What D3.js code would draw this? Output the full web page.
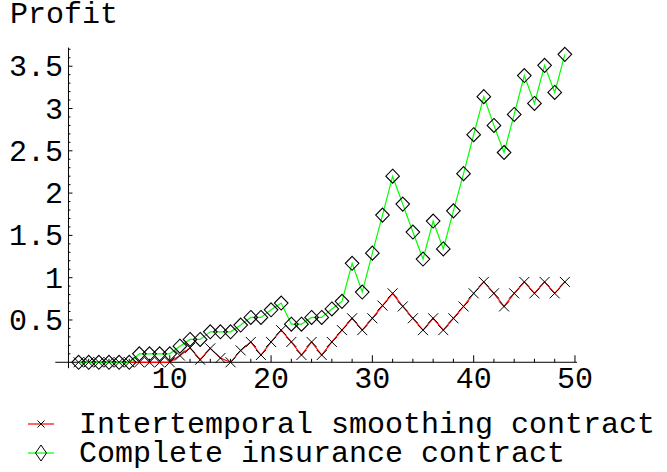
<!DOCTYPE html>
<html>
<head>
<meta charset="utf-8">
<script src="https://cdn.jsdelivr.net/npm/d3@7"></script>
<style>
  body { margin: 0; background: #fff; }
  text { font-family: "Liberation Mono", "Courier New", monospace; fill: #000; }
</style>
</head>
<body>
<div class="chart"></div>
<script>
// periods on the x axis
var periods = [1, 2, 3, 4, 5, 6, 7, 8, 9, 10, 11, 12, 13, 14, 15, 16, 17, 18, 19, 20,
  21, 22, 23, 24, 25, 26, 27, 28, 29, 30, 31, 32, 33, 34, 35, 36, 37, 38, 39, 40,
  41, 42, 43, 44, 45, 46, 47, 48, 49];

// Intertemporal smoothing contract
var smoothingProfit = [0, 0, 0, 0, 0, 0, 0, 0, 0, 0,
  0.08, 0.17, 0.03, 0.165, 0.05, 0.0, 0.14, 0.24, 0.086, 0.24,
  0.38, 0.24, 0.086, 0.24, 0.086, 0.24, 0.38, 0.52, 0.38, 0.52,
  0.67, 0.815, 0.66, 0.52, 0.38, 0.52, 0.38, 0.52, 0.66, 0.815,
  0.95, 0.815, 0.66, 0.815, 0.95, 0.815, 0.95, 0.815, 0.95];

// Complete insurance contract
var insuranceProfit = [0, 0, 0, 0, 0, 0, 0.1, 0.1, 0.1, 0.1,
  0.19, 0.27, 0.27, 0.36, 0.36, 0.36, 0.44, 0.53, 0.53, 0.62,
  0.70, 0.45, 0.45, 0.53, 0.53, 0.63, 0.72, 1.17, 0.83, 1.29,
  1.74, 2.20, 1.87, 1.54, 1.22, 1.67, 1.34, 1.79, 2.23, 2.69,
  3.14, 2.80, 2.48, 2.93, 3.39, 3.06, 3.51, 3.19, 3.64];

var xMajorTicks = [10, 20, 30, 40, 50];
var yMajorTicks = [0.5, 1, 1.5, 2, 2.5, 3, 3.5];
var yTickLabels = ["0.5", "1", "1.5", "2", "2.5", "3", "3.5"];
var seriesNames = ["Intertemporal smoothing contract", "Complete insurance contract"];

var svgWidth = 667;
var svgHeight = 472;

var svg = d3.select(".chart")
  .append("svg")
  .attr("width", svgWidth)
  .attr("height", svgHeight);

var xScale = d3.scaleLinear().domain([-1.3, 50.2]).range([55.3, 577]);
var yScale = d3.scaleLinear().domain([-0.07, 3.72]).range([368.2, 47.6]);

var axisG = svg.append("g").attr("stroke", "#000").attr("stroke-width", 1);

// x axis line + ticks (pointing up into the plot)
axisG.append("line")
  .attr("x1", xScale(-1.3)).attr("x2", xScale(50.2))
  .attr("y1", yScale(0)).attr("y2", yScale(0));

var xMinor = d3.range(2, 51, 2).filter(d => d % 10 !== 0);
axisG.selectAll(".xminor").data(xMinor).enter().append("line")
  .attr("x1", d => xScale(d)).attr("x2", d => xScale(d))
  .attr("y1", yScale(0)).attr("y2", yScale(0) - 3.5);
axisG.selectAll(".xmajor").data(xMajorTicks).enter().append("line")
  .attr("x1", d => xScale(d)).attr("x2", d => xScale(d))
  .attr("y1", yScale(0)).attr("y2", yScale(0) - 7);

svg.selectAll(".xlabel").data(xMajorTicks).enter().append("text")
  .attr("x", d => xScale(d))
  .attr("y", yScale(0) + 26)
  .attr("text-anchor", "middle")
  .style("font-size", "30px")
  .text(d => d);

// y axis line + ticks (pointing right)
axisG.append("line")
  .attr("x1", xScale(0)).attr("x2", xScale(0))
  .attr("y1", yScale(-0.07)).attr("y2", yScale(3.72));

var yMinor = d3.range(1, 38).map(d => d / 10).filter(d => Math.abs(d * 2 - Math.round(d * 2)) > 1e-6);
axisG.selectAll(".yminor").data(yMinor).enter().append("line")
  .attr("x1", xScale(0)).attr("x2", xScale(0) + 2)
  .attr("y1", d => yScale(d)).attr("y2", d => yScale(d));
axisG.selectAll(".ymajor").data(yMajorTicks).enter().append("line")
  .attr("x1", xScale(0)).attr("x2", xScale(0) + 4)
  .attr("y1", d => yScale(d)).attr("y2", d => yScale(d));

svg.selectAll(".ylabel").data(yMajorTicks).enter().append("text")
  .attr("x", 63)
  .attr("y", d => yScale(d) + 10)
  .attr("text-anchor", "end")
  .style("font-size", "30px")
  .text((d, i) => yTickLabels[i]);

svg.append("text")
  .attr("x", 10)
  .attr("y", 23)
  .style("font-size", "30px")
  .text("Profit");

// series lines
var redData = periods.map((p, i) => [p, smoothingProfit[i]]);
var greenData = periods.map((p, i) => [p, insuranceProfit[i]]);

var line = d3.line().x(d => xScale(d[0])).y(d => yScale(d[1]));

svg.append("path").datum(redData)
  .attr("d", line).attr("fill", "none")
  .attr("stroke", "#ff0000").attr("stroke-width", 1.2);
svg.append("path").datum(greenData)
  .attr("d", line).attr("fill", "none")
  .attr("stroke", "#00ff00").attr("stroke-width", 1.2);

// markers
function crossPath(cx, cy, r) {
  return `M${cx - r},${cy - r}L${cx + r},${cy + r}M${cx - r},${cy + r}L${cx + r},${cy - r}`;
}
function diamondPath(cx, cy, rx, ry) {
  return `M${cx},${cy - ry}L${cx + rx},${cy}L${cx},${cy + ry}L${cx - rx},${cy}Z`;
}

svg.selectAll(".xmark").data(redData).enter().append("path")
  .attr("d", d => crossPath(xScale(d[0]), yScale(d[1]), 5))
  .attr("fill", "none").attr("stroke", "#000").attr("stroke-width", 1);

svg.selectAll(".dmark").data(greenData).enter().append("path")
  .attr("d", d => diamondPath(xScale(d[0]), yScale(d[1]), 6.8, 7))
  .attr("fill", "none").attr("stroke", "#000").attr("stroke-width", 1.1);

// legend
var legend = svg.append("g");
var legendY = [424, 453];
var legendColors = ["#ff0000", "#00ff00"];

legend.selectAll(".lline").data(seriesNames).enter().append("line")
  .attr("x1", 28).attr("x2", 54)
  .attr("y1", (d, i) => legendY[i]).attr("y2", (d, i) => legendY[i])
  .attr("stroke", (d, i) => legendColors[i]).attr("stroke-width", 1.2);

legend.append("path")
  .attr("d", crossPath(41, legendY[0], 3.5))
  .attr("fill", "none").attr("stroke", "#000");
legend.append("path")
  .attr("d", diamondPath(41, legendY[1], 5.5, 8))
  .attr("fill", "none").attr("stroke", "#000");

legend.selectAll(".ltext").data(seriesNames).enter().append("text")
  .attr("x", 79)
  .attr("y", (d, i) => legendY[i] + 8.5)
  .style("font-size", "30px")
  .text(d => d);
</script>
</body>
</html>
